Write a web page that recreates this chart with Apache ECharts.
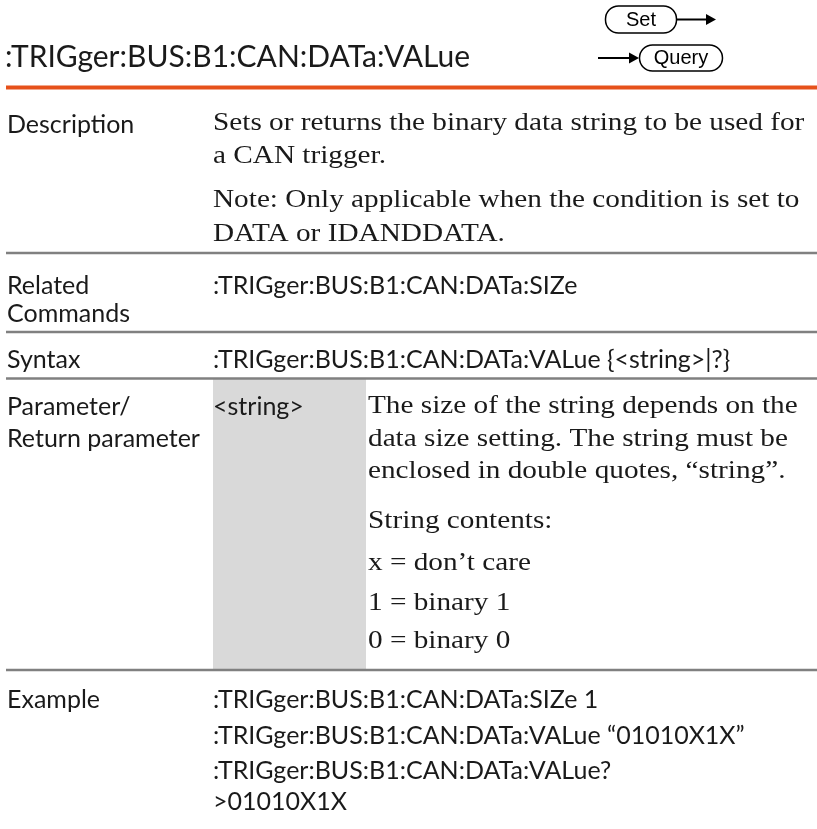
<!DOCTYPE html>
<html>
<head>
<meta charset="utf-8">
<script src="https://cdn.jsdelivr.net/npm/echarts@6/dist/echarts.min.js"></script>
<style>
html,body{margin:0;padding:0;background:#fff;}
#main{width:817px;height:829px;}
</style>
</head>
<body>
<div id="main"></div>
<script>
// ---- content ----
const titleText = ':TRIGger:BUS:B1:CAN:DATa:VALue';
const setLabel = 'Set';
const queryLabel = 'Query';
const descLabel = ['Description'];
const descLines = ['Sets or returns the binary data string to be used for', 'a CAN trigger.', 'Note: Only applicable when the condition is set to', 'DATA or IDANDDATA.'];
const relatedLabel = ['Related', 'Commands'];
const relatedLines = [':TRIGger:BUS:B1:CAN:DATa:SIZe'];
const syntaxLabel = ['Syntax'];
const syntaxLines = [':TRIGger:BUS:B1:CAN:DATa:VALue {<string>|?}'];
const paramLabel = ['Parameter/', 'Return parameter'];
const paramNames = ['<string>'];
const paramLines = ['The size of the string depends on the', 'data size setting. The string must be', 'enclosed in double quotes, \u201cstring\u201d.', 'String contents:', 'x = don\u2019t care', '1 = binary 1', '0 = binary 0'];
const exampleLabel = ['Example'];
const exampleLines = [':TRIGger:BUS:B1:CAN:DATa:SIZe 1', ':TRIGger:BUS:B1:CAN:DATa:VALue \u201c01010X1X\u201d', ':TRIGger:BUS:B1:CAN:DATa:VALue?', '>01010X1X'];

// ---- layout ----
const SANS = 'Lato';
const SERIF = '"Liberation Serif"';
const LABEL_FS = 25, SERIF_FS = 26, TITLE_FS = 30;
const SERIF_SCALE_X = 1.125;
const xLabel = 7, xValue = 213, xParamDesc = 368;
const ink = '#1a1a1a';
const g = [];

function txt(x, baseline, s, family, fs, sx) {
  g.push({
    type: 'text', silent: true,
    x: x, y: baseline - fs * 0.34,
    scaleX: sx || 1,
    style: {
      text: s, fill: ink,
      font: fs + 'px ' + family,
      align: 'left', verticalAlign: 'middle'
    }
  });
}
function hline(y, w, color) {
  g.push({type: 'rect', silent: true, shape: {x: 6, y: y - w / 2, width: 811, height: w}, style: {fill: color}});
}
function lines(x, baselines, arr, family, fs, sx) {
  arr.forEach((s, i) => txt(x, baselines[i], s, family, fs, sx));
}

// gray parameter box (behind)
g.push({type: 'rect', silent: true, shape: {x: 213, y: 379, width: 153, height: 291}, style: {fill: '#d9d9d9'}});

// title
txt(5, 68, titleText, SANS, TITLE_FS);
hline(87.5, 4, '#e6511a');

// Set / Query
g.push({type: 'rect', shape: {x: 605.5, y: 6, width: 71, height: 27, r: 13}, style: {fill: '#fff', stroke: '#000', lineWidth: 1.5}});
g.push({type: 'text', x: 641, y: 20, style: {text: setLabel, font: '20px "Liberation Sans"', fill: '#000', align: 'center', verticalAlign: 'middle'}});
g.push({type: 'line', shape: {x1: 677, y1: 19.5, x2: 708, y2: 19.5}, style: {stroke: '#000', lineWidth: 2}});
g.push({type: 'polygon', shape: {points: [[706, 14], [716, 19.5], [706, 25]]}, style: {fill: '#000'}});
g.push({type: 'line', shape: {x1: 598, y1: 58, x2: 631, y2: 58}, style: {stroke: '#000', lineWidth: 2}});
g.push({type: 'polygon', shape: {points: [[629, 52.5], [639, 58], [629, 63.5]]}, style: {fill: '#000'}});
g.push({type: 'rect', shape: {x: 639.5, y: 45, width: 83, height: 26, r: 13}, style: {fill: '#fff', stroke: '#000', lineWidth: 1.5}});
g.push({type: 'text', x: 681, y: 58.5, style: {text: queryLabel, font: '20px "Liberation Sans"', fill: '#000', align: 'center', verticalAlign: 'middle'}});

// Description
lines(xLabel, [133], descLabel, SANS, LABEL_FS);
lines(xValue, [132, 165, 209, 243], descLines, SERIF, SERIF_FS, SERIF_SCALE_X);
hline(253, 2.5, '#808080');

// Related commands
lines(xLabel, [294, 322], relatedLabel, SANS, LABEL_FS);
lines(xValue, [294], relatedLines, SANS, LABEL_FS);
hline(332, 2.5, '#808080');

// Syntax
lines(xLabel, [368], syntaxLabel, SANS, LABEL_FS);
lines(xValue, [368], syntaxLines, SANS, LABEL_FS);
hline(378.5, 2.5, '#808080');

// Parameter
lines(xLabel, [415, 447], paramLabel, SANS, LABEL_FS);
lines(xValue, [415], paramNames, SANS, LABEL_FS);
lines(xParamDesc, [415, 448, 480, 530, 572, 612, 650], paramLines, SERIF, SERIF_FS, SERIF_SCALE_X);
hline(670, 2.5, '#808080');

// Example
lines(xLabel, [708], exampleLabel, SANS, LABEL_FS);
lines(xValue, [708, 744, 779, 810], exampleLines, SANS, LABEL_FS);

const chart = echarts.init(document.getElementById('main'), null, {renderer: 'canvas'});
chart.setOption({backgroundColor: '#fff', animation: false, graphic: {elements: g}});
</script>
</body>
</html>
